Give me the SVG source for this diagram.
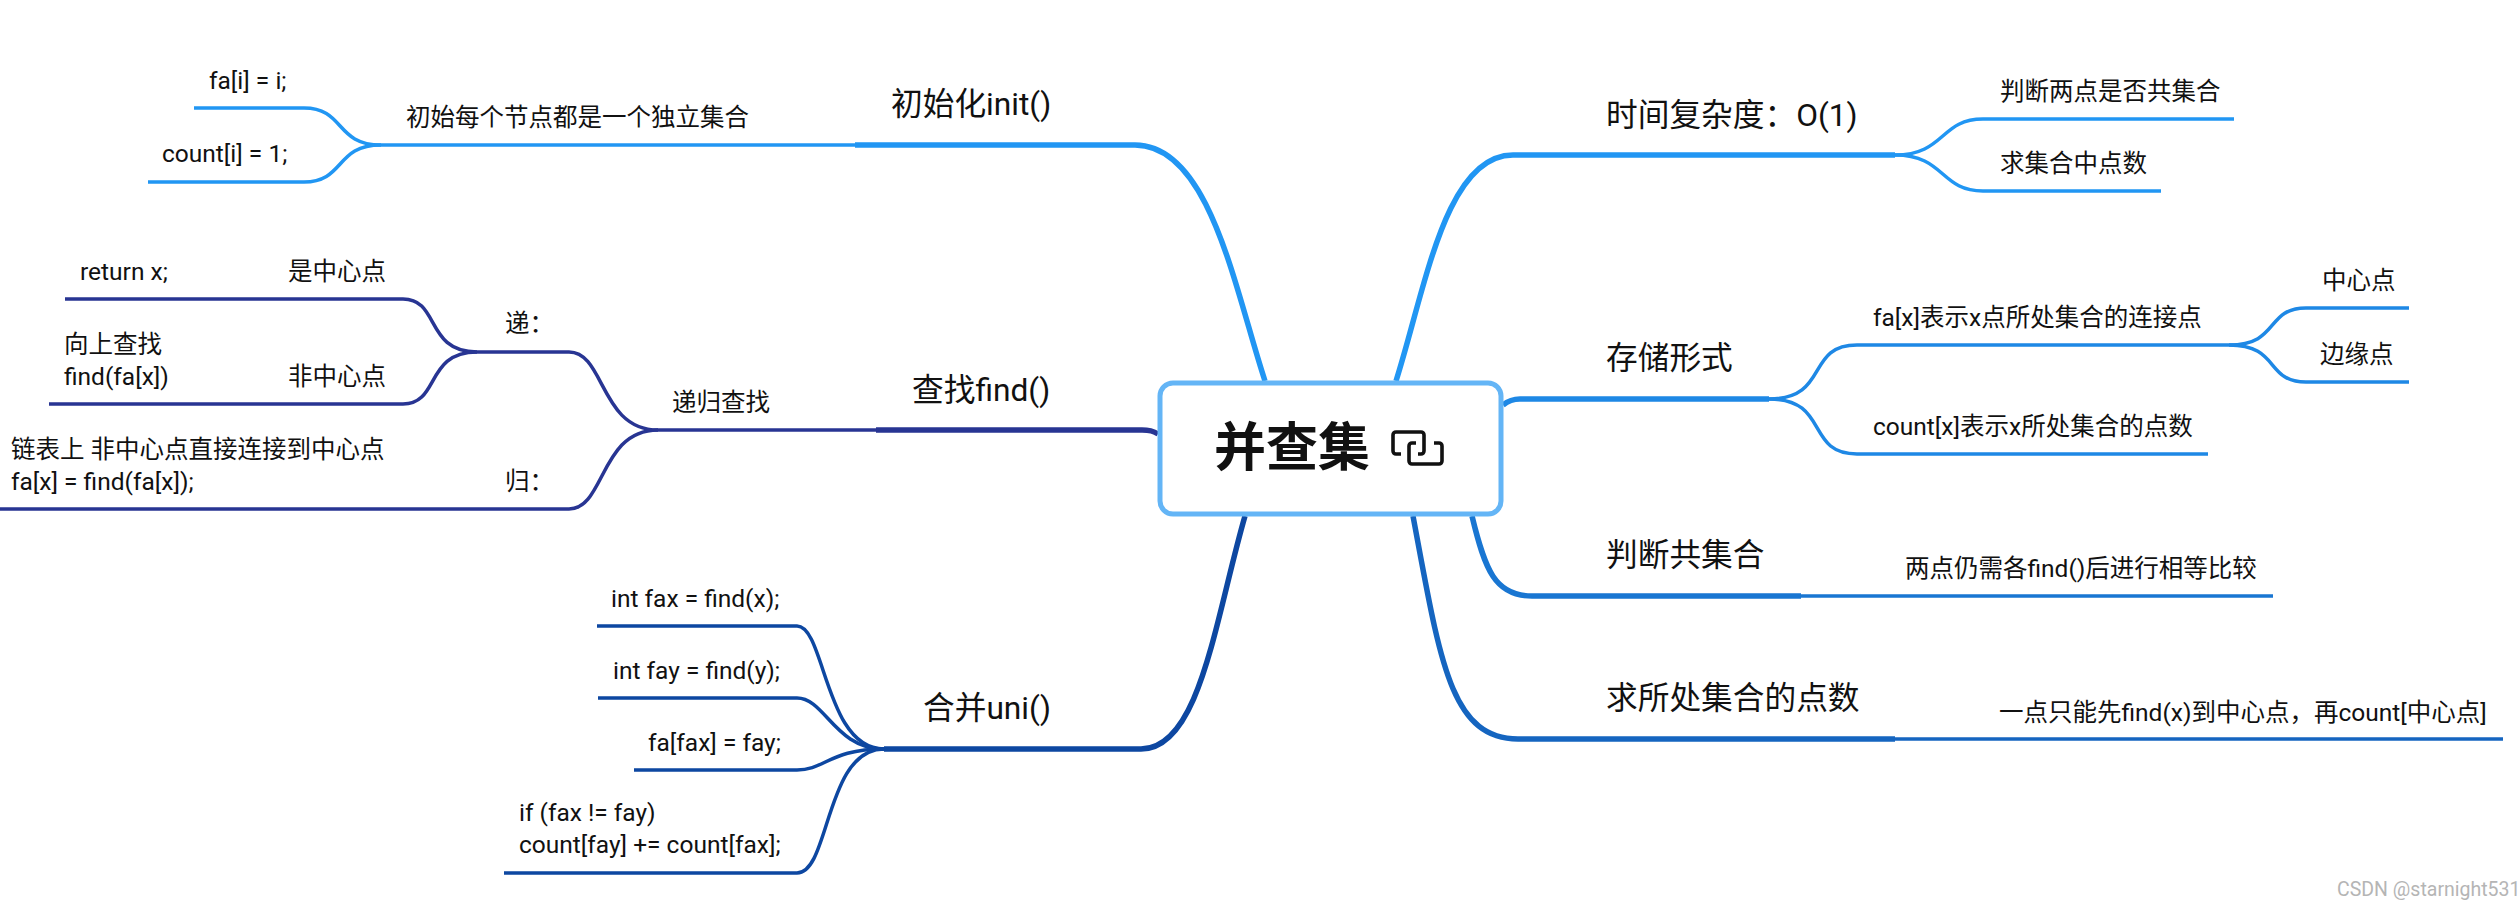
<svg xmlns="http://www.w3.org/2000/svg" width="2518" height="910" viewBox="0 0 2518 910">
<style>
text{font-family:Roboto,"Noto Sans CJK SC",sans-serif;fill:#111}
.t1{font-size:31.7px}
.t2{font-size:24.5px}
.c{fill:none;stroke-linecap:butt}
.m{stroke-width:5.5}
.s{stroke-width:3.5}
.a{stroke:#2196f3}.b{stroke:#1e88e5}.d{stroke:#1976d2}.e{stroke:#1565c0}.f{stroke:#283593}.g{stroke:#0d47a1}
</style>
<rect width="2518" height="910" fill="#fff"/>
<g id="connectors">
<g class="c a">
<path class="m" d="M1396 381C1425 290 1445 155 1513 155H1895"/>
<path class="s" d="M1895 155C1945 155 1940 119 1983 119H2234"/>
<path class="s" d="M1895 155C1945 155 1940 191 1983 191H2161"/>
<path class="m" d="M1265 381C1235 290 1210 145 1135 145H855"/>
<path class="s" d="M855 145H381"/>
<path class="s" d="M381 145C335 145 345 108 304 108H194"/>
<path class="s" d="M381 145C335 145 345 182 304 182H148"/>
</g>
<g class="c b">
<path class="m" d="M1503 405C1508 401 1512 399 1520 399H1769"/>
<path class="s" d="M1769 399C1830 399 1805 345 1857 345H2229"/>
<path class="s" d="M1769 399C1830 399 1805 454 1857 454H2208"/>
<path class="s" d="M2229 345C2280 345 2265 308 2306 308H2409"/>
<path class="s" d="M2229 345C2280 345 2265 382 2306 382H2409"/>
</g>
<g class="c d">
<path class="m" d="M1472 516C1485 570 1495 596 1532 596H1801"/>
<path class="s" d="M1801 596H2273"/>
</g>
<g class="c e">
<path class="m" d="M1413 516C1440 660 1450 739 1518 739H1895"/>
<path class="s" d="M1895 739H2503"/>
</g>
<g class="c f">
<path class="m" d="M1158 434C1153 431 1150 430 1142 430H876"/>
<path class="s" d="M876 430H658"/>
<path class="s" d="M658 430C600 430 605 352 569 352H477"/>
<path class="s" d="M658 430C600 430 605 509 569 509H0"/>
<path class="s" d="M477 352C425 352 440 299 403 299H65"/>
<path class="s" d="M477 352C425 352 440 404 403 404H49"/>
</g>
<g class="c g">
<path class="m" d="M1245 516C1215 620 1200 749 1141 749H884"/>
<path class="s" d="M884 749C825 749 825 626 797 626H597"/>
<path class="s" d="M884 749C835 749 825 698 797 698H598"/>
<path class="s" d="M884 749C830 749 825 770 797 770H634"/>
<path class="s" d="M884 749C825 749 830 873 797 873H504"/>
</g>
</g>
<g id="center">
<rect x="1160" y="383" width="341" height="131" rx="13" fill="#fff" stroke="#64b5f6" stroke-width="5"/>
<text x="1214" y="466" font-size="52" font-weight="700" fill="#000">并查集</text>
<g fill="none" stroke="#111" stroke-width="3.6">
<path d="M1401 454H1396a3 3 0 0 1-3-3V435a3 3 0 0 1 3-3H1421a3 3 0 0 1 3 3V451a3 3 0 0 1-3 3H1418"/>
<path d="M1434 443H1439a3 3 0 0 1 3 3V461a3 3 0 0 1-3 3H1412a3 3 0 0 1-3-3V446a3 3 0 0 1 3-3H1416"/>
</g>
</g>
<g id="n-time"><text class="t1" x="1606" y="126">时间复杂度：O(1)</text></g>
<g id="n-time-1"><text class="t2" x="2000" y="100">判断两点是否共集合</text></g>
<g id="n-time-2"><text class="t2" x="2000" y="172">求集合中点数</text></g>
<g id="n-store"><text class="t1" x="1606" y="369">存储形式</text></g>
<g id="n-store-1"><text class="t2" x="1873" y="326">fa[x]表示x点所处集合的连接点</text></g>
<g id="n-store-2"><text class="t2" x="1873" y="435">count[x]表示x所处集合的点数</text></g>
<g id="n-store-3"><text class="t2" x="2322" y="289">中心点</text></g>
<g id="n-store-4"><text class="t2" x="2320" y="363">边缘点</text></g>
<g id="n-same"><text class="t1" x="1606" y="566">判断共集合</text></g>
<g id="n-same-1"><text class="t2" x="1905" y="577">两点仍需各find()后进行相等比较</text></g>
<g id="n-size"><text class="t1" x="1606" y="709">求所处集合的点数</text></g>
<g id="n-size-1"><text class="t2" x="1999" y="721">一点只能先find(x)到中心点，再count[中心点]</text></g>
<g id="n-init"><text class="t1" x="891" y="115">初始化init()</text></g>
<g id="n-init-1"><text class="t2" x="406" y="126">初始每个节点都是一个独立集合</text></g>
<g id="n-init-2"><text class="t2" x="209" y="89">fa[i] = i;</text></g>
<g id="n-init-3"><text class="t2" x="162" y="162">count[i] = 1;</text></g>
<g id="n-find"><text class="t1" x="912" y="401">查找find()</text></g>
<g id="n-find-1"><text class="t2" x="672" y="411">递归查找</text></g>
<g id="n-find-2"><text class="t2" x="505" y="332">递：</text></g>
<g id="n-find-3"><text class="t2" x="505" y="490">归：</text></g>
<g id="n-find-4"><text class="t2" x="288" y="280">是中心点</text></g>
<g id="n-find-5"><text class="t2" x="80" y="280">return x;</text></g>
<g id="n-find-6"><text class="t2" x="288" y="385">非中心点</text></g>
<g id="n-find-7"><text class="t2"><tspan x="64" y="353">向上查找</tspan><tspan x="64" y="385">find(fa[x])</tspan></text></g>
<g id="n-find-8"><text class="t2"><tspan x="11" y="458">链表上 非中心点直接连接到中心点</tspan><tspan x="11" y="490">fa[x] = find(fa[x]);</tspan></text></g>
<g id="n-uni"><text class="t1" x="923" y="719">合并uni()</text></g>
<g id="n-uni-1"><text class="t2" x="611" y="607">int fax = find(x);</text></g>
<g id="n-uni-2"><text class="t2" x="613" y="679">int fay = find(y);</text></g>
<g id="n-uni-3"><text class="t2" x="648" y="751">fa[fax] = fay;</text></g>
<g id="n-uni-4"><text class="t2"><tspan x="519" y="821">if (fax != fay)</tspan><tspan x="519" y="853">count[fay] += count[fax];</tspan></text></g>
<text x="2337" y="896" font-size="19.5" style="fill:#b5b5b5">CSDN @starnight531</text>
</svg>
